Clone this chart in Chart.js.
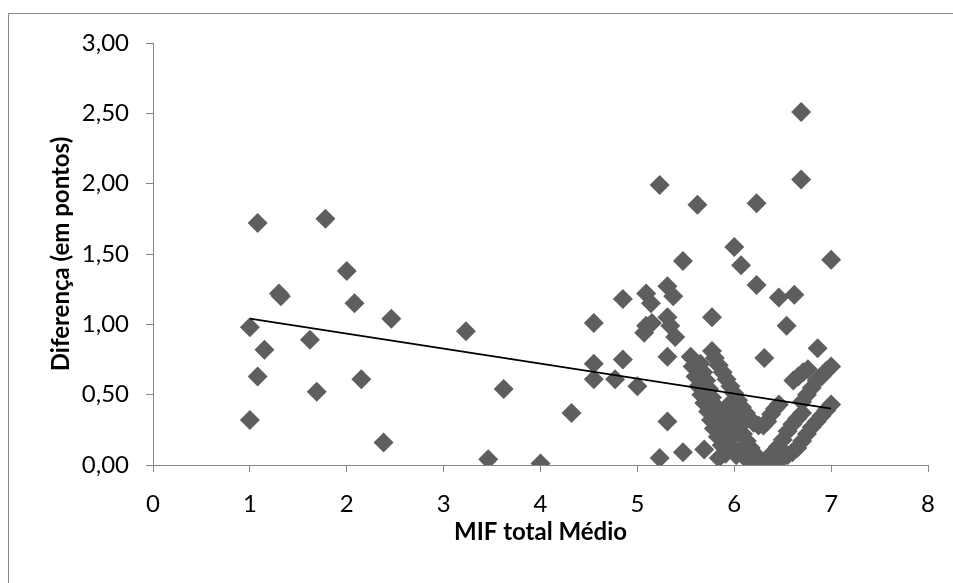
<!DOCTYPE html>
<html>
<head>
<meta charset="utf-8">
<script src="https://cdn.jsdelivr.net/npm/chart.js@4.4.1/dist/chart.umd.min.js"></script>
<style>
html,body{margin:0;padding:0;background:#fff;}
canvas{display:block;}
</style>
</head>
<body>
<canvas id="c" width="953" height="583"></canvas>
<script>
// MIF total Médio (x) and Diferença (y)
const mifTotalMedio = [
  1.00,1.00,1.08,1.08,1.15,1.30,1.32,1.62,1.69,1.78,2.00,2.08,2.15,2.38,2.46,3.23,3.46,3.62,4.00,4.32,
  4.55,4.55,4.55,4.77,4.85,4.85,5.00,5.07,5.09,5.09,5.14,5.15,5.23,5.23,5.31,5.31,5.31,5.31,5.34,5.37,5.39,5.47,5.47,5.62,5.69,5.77,6.00,6.07,6.23,6.23,6.31,6.46,6.54,6.62,6.69,6.69,6.86,7.00,
  5.55,5.57,5.60,5.63,5.66,5.69,5.73,5.76,5.79,5.83,5.87,5.91,5.84,
  5.65,5.68,5.71,5.74,5.77,5.81,5.84,5.88,5.92,5.95,5.99,6.02,
  5.77,5.80,5.84,5.88,5.92,5.96,6.00,6.04,6.08,6.12,6.16,6.20,6.25,6.30,
  5.93,5.97,6.01,6.05,6.09,6.13,6.17,6.21,6.25,6.30,
  6.06,6.10,6.15,6.20,6.35,6.40,
  6.34,6.38,6.42,6.46,
  6.35,6.40,6.45,6.50,6.55,6.60,6.65,6.70,
  6.45,6.50,6.55,6.60,
  6.65,6.70,6.75,6.80,6.85,6.90,6.95,7.00,
  6.70,6.75,6.80,6.85,6.90,6.95,7.00,
  6.61,6.66,6.71,6.76
];
const diferenca = [
  0.32,0.98,1.72,0.63,0.82,1.22,1.20,0.89,0.52,1.75,1.38,1.15,0.61,0.16,1.04,0.95,0.04,0.54,0.01,0.37,
  1.01,0.72,0.61,0.61,1.18,0.75,0.56,0.94,0.99,1.22,1.15,1.01,1.99,0.05,1.27,1.05,0.77,0.31,0.99,1.20,0.91,1.45,0.09,1.85,0.11,1.05,1.55,1.42,1.86,1.28,0.76,1.19,0.99,1.21,2.51,2.03,0.83,1.46,
  0.77,0.70,0.63,0.56,0.50,0.44,0.38,0.32,0.26,0.20,0.14,0.08,0.05,
  0.72,0.66,0.60,0.54,0.48,0.42,0.36,0.30,0.24,0.18,0.12,0.07,
  0.81,0.76,0.71,0.66,0.61,0.56,0.51,0.46,0.41,0.37,0.33,0.30,0.28,0.28,
  0.42,0.37,0.32,0.27,0.22,0.17,0.12,0.08,0.05,0.02,
  0.10,0.06,0.03,0.01,0.01,0.03,
  0.31,0.36,0.40,0.43,
  0.05,0.09,0.13,0.18,0.24,0.29,0.33,0.37,
  0.04,0.05,0.07,0.09,
  0.12,0.17,0.22,0.27,0.31,0.35,0.39,0.43,
  0.45,0.50,0.55,0.60,0.63,0.67,0.70,
  0.60,0.63,0.66,0.68
];
// Linear trend line end points
const trendX = [1, 7];
const trendY = [1.04, 0.40];

const xTitle = 'MIF total Médio';
const yTitle = 'Diferença (em pontos)';

const scatterPoints = mifTotalMedio.map((x, i) => ({x: x, y: diferenca[i]}));
const trendPoints = trendX.map((x, i) => ({x: x, y: trendY[i]}));

const AXIS = '#868686';
const FONT = 'Lato, "Open Sans", sans-serif';

const frame = {
  id: 'frame',
  beforeDraw(chart) {
    const ctx = chart.ctx;
    ctx.save();
    ctx.fillStyle = '#ffffff';
    ctx.fillRect(0, 0, chart.width, chart.height);
    ctx.strokeStyle = AXIS;
    ctx.lineWidth = 1;
    ctx.beginPath();
    ctx.moveTo(8.5, chart.height);
    ctx.lineTo(8.5, 13.5);
    ctx.lineTo(chart.width, 13.5);
    ctx.stroke();
    ctx.restore();
  }
};

new Chart(document.getElementById('c'), {
  type: 'scatter',
  data: {
    datasets: [
      {
        type: 'line',
        data: trendPoints,
        borderColor: '#000000',
        borderWidth: 1.75,
        pointRadius: 0,
        fill: false,
        order: 0
      },
      {
        data: scatterPoints,
        pointStyle: 'rectRot',
        pointRadius: 10,
        pointHoverRadius: 10,
        backgroundColor: '#5e5e5e',
        borderColor: '#5e5e5e',
        borderWidth: 0,
        order: 1
      }
    ]
  },
  options: {
    responsive: false,
    devicePixelRatio: 1,
    animation: false,
    layout: { padding: { left: 43, top: 43, right: 15, bottom: 28 } },
    plugins: { legend: { display: false }, tooltip: { enabled: false } },
    scales: {
      x: {
        type: 'linear',
        min: 0, max: 8,
        afterFit(s) { s.height = 90; },
        ticks: { stepSize: 1, color: '#000', font: { family: FONT, size: 24 }, padding: 18, maxRotation: 0 },
        grid: { drawOnChartArea: false, drawTicks: true, tickLength: 7, color: AXIS },
        border: { display: true, color: AXIS, width: 1 },
        title: { display: true, text: xTitle, color: '#000', font: { family: FONT, size: 24, weight: 'bold' }, padding: { top: 4, bottom: 8 } }
      },
      y: {
        type: 'linear',
        min: 0, max: 3,
        afterFit(s) { s.width = 110; },
        ticks: {
          stepSize: 0.5, color: '#000', font: { family: FONT, size: 24 }, padding: 17,
          callback: (v) => v.toFixed(2).replace('.', ',')
        },
        grid: { drawOnChartArea: false, drawTicks: true, tickLength: 7, color: AXIS },
        border: { display: true, color: AXIS, width: 1 },
        title: { display: true, text: yTitle, color: '#000', font: { family: FONT, size: 24, weight: 'bold' }, padding: { top: 4, bottom: 4 } }
      }
    }
  },
  plugins: [frame]
});
</script>
</body>
</html>
